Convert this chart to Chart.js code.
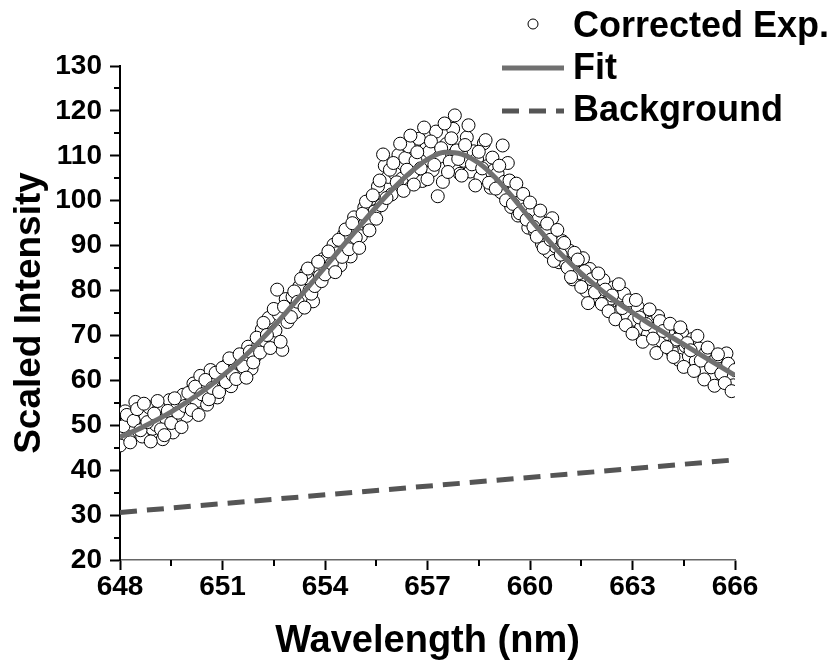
<!DOCTYPE html>
<html>
<head>
<meta charset="utf-8">
<script src="https://cdn.jsdelivr.net/npm/chart.js@4.4.1/dist/chart.umd.min.js"></script>
<style>
  html, body { margin: 0; padding: 0; background: #fff; }
  #wrap { width: 835px; height: 668px; }
</style>
</head>
<body>
<div id="wrap"><canvas id="myChart" width="835" height="668"></canvas></div>
<script>
const expWavelengthA = [
  648.0, 648.1, 648.2, 648.3, 648.4, 648.5, 648.6, 648.7, 648.8, 648.9,
  649.0, 649.1, 649.2, 649.3, 649.4, 649.5, 649.6, 649.7, 649.8, 649.9,
  650.0, 650.1, 650.2, 650.3, 650.4, 650.5, 650.6, 650.7, 650.8, 650.9,
  651.0, 651.1, 651.2, 651.3, 651.4, 651.5, 651.6, 651.7, 651.8, 651.9,
  652.0, 652.1, 652.2, 652.3, 652.4, 652.5, 652.6, 652.7, 652.8, 652.9,
  653.0, 653.1, 653.2, 653.3, 653.4, 653.5, 653.6, 653.7, 653.8, 653.9,
  654.0, 654.1, 654.2, 654.3, 654.4, 654.5, 654.6, 654.7, 654.8, 654.9,
  655.0, 655.1, 655.2, 655.3, 655.4, 655.5, 655.6, 655.7, 655.8, 655.9,
  656.0, 656.1, 656.2, 656.3, 656.4, 656.5, 656.6, 656.7, 656.8, 656.9,
  657.0, 657.1, 657.2, 657.3, 657.4, 657.5, 657.6, 657.7, 657.8, 657.9,
  658.0, 658.1, 658.2, 658.3, 658.4, 658.5, 658.6, 658.7, 658.8, 658.9,
  659.0, 659.1, 659.2, 659.3, 659.4, 659.5, 659.6, 659.7, 659.8, 659.9,
  660.0, 660.1, 660.2, 660.3, 660.4, 660.5, 660.6, 660.7, 660.8, 660.9,
  661.0, 661.1, 661.2, 661.3, 661.4, 661.5, 661.6, 661.7, 661.8, 661.9,
  662.0, 662.1, 662.2, 662.3, 662.4, 662.5, 662.6, 662.7, 662.8, 662.9,
  663.0, 663.1, 663.2, 663.3, 663.4, 663.5, 663.6, 663.7, 663.8, 663.9,
  664.0, 664.1, 664.2, 664.3, 664.4, 664.5, 664.6, 664.7, 664.8, 664.9,
  665.0, 665.1, 665.2, 665.3, 665.4, 665.5, 665.6, 665.7, 665.8, 665.9,
  666.0
];
const expIntensityA = [
  45.5, 49.8, 52.3, 46.2, 51.0, 53.6, 48.9, 54.8, 50.7, 46.4,
  52.6, 55.4, 49.1, 47.8, 53.2, 50.5, 56.0, 52.8, 49.6, 54.3,
  57.2, 53.4, 58.6, 52.3, 56.9, 60.1, 55.8, 58.3, 61.7, 57.4,
  62.8, 59.6, 64.9, 61.2, 60.3, 65.8, 63.1, 60.6, 66.4, 64.0,
  69.5, 66.2, 72.8, 70.1, 67.2, 75.9, 80.2, 68.6, 76.4, 73.0,
  74.1, 79.8, 77.5, 82.6, 76.2, 84.9, 79.3, 81.0, 86.4, 82.1,
  83.6, 88.7, 86.0, 84.1, 91.3, 87.5, 93.6, 89.2, 95.0, 91.8,
  89.5, 97.1, 99.8, 93.4, 101.2, 96.0, 104.5, 110.3, 100.6, 106.9,
  108.4, 104.1, 112.7, 102.2, 106.9, 114.5, 103.6, 110.8, 107.2, 116.3,
  104.8, 113.2, 108.0, 101.0, 111.7, 117.2, 106.4, 113.9, 119.0, 109.3,
  105.6, 112.4, 116.8, 108.1, 103.4, 110.9, 107.2, 113.5, 104.0, 109.6,
  102.7, 107.8, 112.3, 100.1, 104.5, 99.3, 103.8, 97.2, 101.5, 95.8,
  99.6, 94.2, 92.0, 97.8, 89.5, 94.9, 91.3, 86.6, 93.5, 88.0,
  90.6, 85.1, 83.0, 88.4, 86.9, 80.8, 84.3, 77.2, 82.5, 79.6,
  83.8, 77.0, 80.2, 75.4, 78.9, 73.6, 81.4, 76.1, 72.3, 77.8,
  70.4, 77.9, 74.0, 68.6, 72.5, 75.8, 69.3, 66.1, 73.2, 71.0,
  67.4, 72.6, 65.2, 69.1, 71.8, 63.0, 68.3, 66.7, 62.1, 69.9,
  64.4, 60.2, 67.3, 62.9, 58.8, 65.8, 61.5, 59.4, 63.7, 57.6,
  62.3
];

// scan B, between the points of scan A
const expWavelengthB = [
  648.05, 648.15, 648.25, 648.35, 648.45, 648.55, 648.65, 648.75, 648.85, 648.95,
  649.05, 649.15, 649.25, 649.35, 649.45, 649.55, 649.65, 649.75, 649.85, 649.95,
  650.05, 650.15, 650.25, 650.35, 650.45, 650.55, 650.65, 650.75, 650.85, 650.95,
  651.05, 651.15, 651.25, 651.35, 651.45, 651.55, 651.65, 651.75, 651.85, 651.95,
  652.05, 652.15, 652.25, 652.35, 652.45, 652.55, 652.65, 652.75, 652.85, 652.95,
  653.05, 653.15, 653.25, 653.35, 653.45, 653.55, 653.65, 653.75, 653.85, 653.95,
  654.05, 654.15, 654.25, 654.35, 654.45, 654.55, 654.65, 654.75, 654.85, 654.95,
  655.05, 655.15, 655.25, 655.35, 655.45, 655.55, 655.65, 655.75, 655.85, 655.95,
  656.05, 656.15, 656.25, 656.35, 656.45, 656.55, 656.65, 656.75, 656.85, 656.95,
  657.05, 657.15, 657.25, 657.35, 657.45, 657.55, 657.65, 657.75, 657.85, 657.95,
  658.05, 658.15, 658.25, 658.35, 658.45, 658.55, 658.65, 658.75, 658.85, 658.95,
  659.05, 659.15, 659.25, 659.35, 659.45, 659.55, 659.65, 659.75, 659.85, 659.95,
  660.05, 660.15, 660.25, 660.35, 660.45, 660.55, 660.65, 660.75, 660.85, 660.95,
  661.05, 661.15, 661.25, 661.35, 661.45, 661.55, 661.65, 661.75, 661.85, 661.95,
  662.05, 662.15, 662.25, 662.35, 662.45, 662.55, 662.65, 662.75, 662.85, 662.95,
  663.05, 663.15, 663.25, 663.35, 663.45, 663.55, 663.65, 663.75, 663.85, 663.95,
  664.05, 664.15, 664.25, 664.35, 664.45, 664.55, 664.65, 664.75, 664.85, 664.95,
  665.05, 665.15, 665.25, 665.35, 665.45, 665.55, 665.65, 665.75, 665.85, 665.95
];
const expIntensityB = [
  48.3, 53.1, 47.0, 50.2, 55.2, 52.0, 47.5, 51.9, 54.0, 49.2,
  50.1, 53.9, 46.9, 51.5, 55.6, 48.4, 53.7, 51.2, 56.8, 52.1,
  54.8, 59.3, 55.4, 61.0, 57.8, 54.6, 62.3, 59.1, 56.2, 60.8,
  60.1, 63.6, 58.7, 62.4, 65.1, 61.8, 64.3, 67.5, 62.6, 65.3,
  67.9, 71.3, 68.8, 73.9, 69.6, 71.1, 74.7, 66.8, 78.1, 74.6,
  78.6, 75.2, 80.9, 78.3, 84.0, 80.1, 77.6, 85.5, 83.2, 87.0,
  86.9, 84.9, 90.2, 88.3, 85.6, 92.4, 90.0, 87.6, 96.3, 93.1,
  92.1, 98.5, 95.2, 100.4, 97.6, 103.2, 99.0, 107.8, 105.3, 101.4,
  106.0, 110.2, 104.9, 109.5, 112.1, 105.7, 108.9, 113.8, 104.4, 111.5,
  110.9, 106.8, 115.4, 109.8, 104.2, 112.6, 108.7, 116.0, 111.2, 106.0,
  108.9, 114.1, 106.5, 111.0, 109.3, 105.2, 112.8, 107.7, 102.9, 106.8,
  106.1, 101.9, 104.2, 108.4, 98.6, 102.3, 96.7, 100.0, 98.1, 94.0,
  97.3, 93.1, 95.9, 90.4, 93.0, 88.6, 96.1, 89.8, 86.3, 91.0,
  86.0, 88.9, 82.5, 85.7, 83.9, 87.2, 79.9, 84.8, 81.1, 78.4,
  79.7, 82.3, 76.5, 78.2, 80.7, 75.1, 77.6, 79.3, 74.4, 76.8,
  73.5, 76.4, 71.7, 74.6, 70.2, 72.9, 71.4, 74.3, 68.8, 72.0,
  70.3, 66.5, 68.8, 64.6, 70.6, 67.6, 65.4, 69.2, 64.3, 67.1,
  62.1, 66.2, 63.8, 60.4, 64.9, 62.5, 59.8, 66.0, 60.9, 58.9
];

// Fit curve, read every 0.5 nm
const fitWavelength = [
  648, 648.5, 649, 649.5, 650, 650.5, 651, 651.5, 652, 652.5,
  653, 653.5, 654, 654.5, 655, 655.5, 656, 656.5, 657, 657.5,
  658, 658.5, 659, 659.5, 660, 660.5, 661, 661.5, 662, 662.5,
  663, 663.5, 664, 664.5, 665, 665.5, 666
];
const fitIntensity = [
  47.4, 49.0, 50.9, 53.0, 55.4, 58.0, 61.0, 64.3, 68.0, 72.0,
  76.3, 80.7, 85.2, 89.7, 94.2, 98.6, 102.7, 106.3, 109.2, 110.8,
  110.4, 108.4, 105.0, 100.7, 96.0, 91.5, 87.4, 83.8, 80.6, 77.7,
  75.1, 72.6, 70.3, 68.0, 65.7, 63.4, 61.1
];

// Linear background
const bgWavelength = [648, 666];
const bgIntensity = [30.6, 42.3];

const xMinorTicks = [649.5, 652.5, 655.5, 658.5, 661.5, 664.5];
const yMinorTicks = [25, 35, 45, 55, 65, 75, 85, 95, 105, 115, 125];

const FONT = '"Liberation Sans", Arial, sans-serif';

function toPoints(xs, ys) {
    return xs.map((x, i) => ({ x: x, y: ys[i] }));
}

// short minor ticks on both axes
const minorTicks = {
    id: 'minorTicks',
    afterDraw(chart) {
        const ctx = chart.ctx;
        const xs = chart.scales.x;
        const ys = chart.scales.y;
        ctx.save();
        ctx.strokeStyle = '#000';
        ctx.lineWidth = 2;
        ctx.beginPath();
        xMinorTicks.forEach(v => {
            const px = Math.round(xs.getPixelForValue(v));
            ctx.moveTo(px, xs.top);
            ctx.lineTo(px, xs.top + 6);
        });
        yMinorTicks.forEach(v => {
            const py = Math.round(ys.getPixelForValue(v));
            ctx.moveTo(ys.right, py);
            ctx.lineTo(ys.right - 6, py);
        });
        ctx.stroke();
        ctx.restore();
    }
};

// legend in the top right corner
const cornerLegend = {
    id: 'cornerLegend',
    afterDraw(chart) {
        const ctx = chart.ctx;
        ctx.save();
        ctx.font = 'bold 36px ' + FONT;
        ctx.fillStyle = '#000';
        ctx.textBaseline = 'alphabetic';
        ctx.fillText('Corrected Exp.', 573, 37);
        ctx.fillText('Fit', 573, 79);
        ctx.fillText('Background', 573, 121);

        ctx.beginPath();
        ctx.arc(533, 24, 5, 0, Math.PI * 2);
        ctx.fillStyle = '#fff';
        ctx.fill();
        ctx.lineWidth = 1;
        ctx.strokeStyle = '#000';
        ctx.stroke();

        ctx.strokeStyle = '#707070';
        ctx.lineWidth = 5;
        ctx.beginPath();
        ctx.moveTo(502, 68);
        ctx.lineTo(564, 68);
        ctx.stroke();

        ctx.strokeStyle = '#555';
        ctx.setLineDash([17, 10]);
        ctx.beginPath();
        ctx.moveTo(502, 111);
        ctx.lineTo(564, 111);
        ctx.stroke();
        ctx.restore();
    }
};

const expStyle = {
    pointRadius: 6.5,
    pointBorderWidth: 1,
    pointBorderColor: '#000',
    pointBackgroundColor: '#fff',
    order: 2
};

const ctx = document.getElementById('myChart').getContext('2d');
const chart = new Chart(ctx, {
    type: 'scatter',
    data: {
        datasets: [
            {
                label: 'Fit',
                data: toPoints(fitWavelength, fitIntensity),
                showLine: true,
                borderColor: '#707070',
                borderWidth: 5,
                pointRadius: 0,
                cubicInterpolationMode: 'monotone',
                order: 0
            },
            {
                label: 'Background',
                data: toPoints(bgWavelength, bgIntensity),
                showLine: true,
                borderColor: '#555',
                borderWidth: 5,
                borderDash: [17, 10],
                pointRadius: 0,
                order: 1
            },
            Object.assign({ label: 'Corrected Exp.', data: toPoints(expWavelengthA, expIntensityA) }, expStyle),
            Object.assign({ label: 'Corrected Exp. (B)', data: toPoints(expWavelengthB, expIntensityB) }, expStyle, { order: 3 })
        ]
    },
    options: {
        responsive: false,
        animation: false,
        devicePixelRatio: 1,
        layout: {
            padding: { top: 66, right: 100, left: 0, bottom: 0 }
        },
        plugins: {
            legend: { display: false },
            tooltip: { enabled: false }
        },
        scales: {
            x: {
                type: 'linear',
                min: 648,
                max: 666,
                afterFit: scale => { scale.height = 108; },
                ticks: {
                    stepSize: 3,
                    color: '#000',
                    padding: 0,
                    maxRotation: 0,
                    font: { family: FONT, size: 28, weight: 'bold' }
                },
                grid: {
                    drawOnChartArea: false,
                    drawTicks: true,
                    tickLength: 10,
                    tickWidth: 2,
                    tickColor: '#000'
                },
                border: { display: true, color: '#666', width: 1.5 },
                title: {
                    display: true,
                    text: 'Wavelength (nm)',
                    color: '#000',
                    padding: { top: 4, bottom: 4 },
                    font: { family: FONT, size: 38, weight: 'bold' }
                }
            },
            y: {
                type: 'linear',
                min: 20,
                max: 130,
                afterFit: scale => { scale.width = 120; },
                ticks: {
                    stepSize: 10,
                    color: '#000',
                    padding: 8,
                    font: { family: FONT, size: 28, weight: 'bold' }
                },
                grid: {
                    drawOnChartArea: false,
                    drawTicks: true,
                    tickLength: 10,
                    tickWidth: 2,
                    tickColor: '#000'
                },
                border: { display: true, color: '#000', width: 2 },
                title: {
                    display: true,
                    text: 'Scaled Intensity',
                    color: '#000',
                    padding: { top: 8, bottom: 4 },
                    font: { family: FONT, size: 37, weight: 'bold' }
                }
            }
        }
    },
    plugins: [minorTicks, cornerLegend]
});
</script>
</body>
</html>
